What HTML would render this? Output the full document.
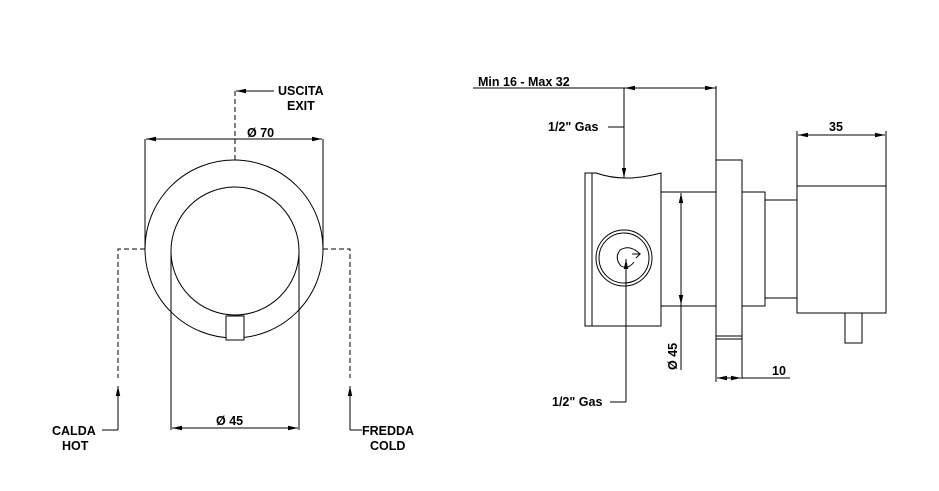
<!DOCTYPE html>
<html><head><meta charset="utf-8"><style>
html,body{margin:0;padding:0;background:#fff}
svg{display:block}
text{font-family:"Liberation Sans",Arial,sans-serif;font-weight:bold;font-size:12.5px;fill:#000}
</style></head><body>
<svg width="939" height="491" viewBox="0 0 939 491" xmlns="http://www.w3.org/2000/svg">
<defs>
<marker id="a" markerWidth="10" markerHeight="6" refX="10" refY="3" orient="auto" markerUnits="userSpaceOnUse"><path d="M0,0.8 L10,3 L0,5.2z" fill="#000"/></marker>
</defs>
<g fill="none" stroke="#000" stroke-width="1">
<!-- left view -->
<circle cx="234" cy="249" r="89"/>
<circle cx="235" cy="251" r="64"/>
<rect x="226" y="316" width="18" height="24" fill="#fff"/>
<!-- dim 70 -->
<line x1="145" y1="139" x2="145" y2="249"/><line x1="323" y1="139" x2="323" y2="249"/>
<line x1="234" y1="139" x2="146" y2="139" marker-end="url(#a)"/><line x1="234" y1="139" x2="322" y2="139" marker-end="url(#a)"/>
<!-- uscita -->
<path d="M235 160 V91 H238" stroke-dasharray="5,3"/>
<line x1="274" y1="91" x2="236" y2="91" marker-end="url(#a)"/>
<!-- calda -->
<path d="M145 249 H118 V378" stroke-dasharray="5,3"/>
<line x1="118" y1="430" x2="118" y2="386" marker-end="url(#a)"/>
<line x1="102" y1="430" x2="118" y2="430"/>
<!-- fredda -->
<path d="M323 249 H350 V378" stroke-dasharray="5,3"/>
<line x1="350" y1="430" x2="350" y2="386" marker-end="url(#a)"/>
<line x1="350" y1="430" x2="362" y2="430"/>
<!-- dim 45 -->
<line x1="171" y1="251" x2="171" y2="430"/><line x1="299" y1="251" x2="299" y2="430"/>
<line x1="235" y1="428" x2="172" y2="428" marker-end="url(#a)"/><line x1="235" y1="428" x2="298" y2="428" marker-end="url(#a)"/>

<!-- right view -->
<line x1="473" y1="88" x2="716" y2="88"/>
<line x1="670" y1="88" x2="625" y2="88" marker-end="url(#a)"/>
<line x1="670" y1="88" x2="715" y2="88" marker-end="url(#a)"/>
<line x1="624" y1="88" x2="624" y2="178" marker-end="url(#a)"/>
<line x1="608" y1="127" x2="624" y2="127"/>
<line x1="716" y1="86" x2="716" y2="160"/>
<!-- valve body -->
<path d="M585 173 H596 Q624 183 661 173 V326 H585 Z"/>
<line x1="592" y1="173" x2="592" y2="326"/>
<circle cx="624" cy="258" r="28"/><circle cx="624" cy="258" r="25"/>
<path d="M640 254 Q630 244 620 250 Q614 258 621 266 Q628 270 634 262"/>
<path d="M632 254 L640 254 L636 258"/>
<!-- pipe -->
<rect x="661" y="192" width="55" height="114"/>
<line x1="681" y1="250" x2="681" y2="193" marker-end="url(#a)"/>
<line x1="681" y1="250" x2="681" y2="305" marker-end="url(#a)"/>
<line x1="681" y1="305" x2="681" y2="370"/>
<!-- flange -->
<rect x="716" y="160" width="26" height="176"/>
<path d="M716 339 H742 V379"/>
<line x1="716" y1="336" x2="716" y2="382"/>
<line x1="742" y1="336" x2="742" y2="379"/>
<line x1="742" y1="378" x2="790" y2="378"/>
<line x1="729" y1="378" x2="717" y2="378" marker-end="url(#a)"/>
<line x1="729" y1="378" x2="741" y2="378" marker-end="url(#a)"/>
<rect x="742" y="192" width="23" height="114"/>
<path d="M765 200 H797 M765 298 H797"/>
<rect x="797" y="186" width="89" height="127"/>
<path d="M797 186 V131 M886 186 V131"/>
<line x1="841" y1="135" x2="798" y2="135" marker-end="url(#a)"/>
<line x1="841" y1="135" x2="885" y2="135" marker-end="url(#a)"/>
<rect x="845" y="313" width="17" height="30"/>
<!-- lower gas -->
<line x1="626" y1="402" x2="626" y2="259" marker-end="url(#a)"/>
<line x1="610" y1="402" x2="626" y2="402"/>
</g>
<text x="247" y="137">Ø 70</text>
<text x="278" y="95">USCITA</text>
<text x="287" y="110">EXIT</text>
<text x="52" y="435">CALDA</text>
<text x="62" y="450">HOT</text>
<text x="362" y="435">FREDDA</text>
<text x="370" y="450">COLD</text>
<text x="216" y="425">Ø 45</text>
<text x="478" y="86">Min 16 - Max 32</text>
<text x="548" y="131">1/2" Gas</text>
<text x="552" y="406">1/2" Gas</text>
<text x="829" y="131">35</text>
<text x="772" y="375">10</text>
<text transform="translate(677,370) rotate(-90)">Ø 45</text>
</svg>
</body></html>
